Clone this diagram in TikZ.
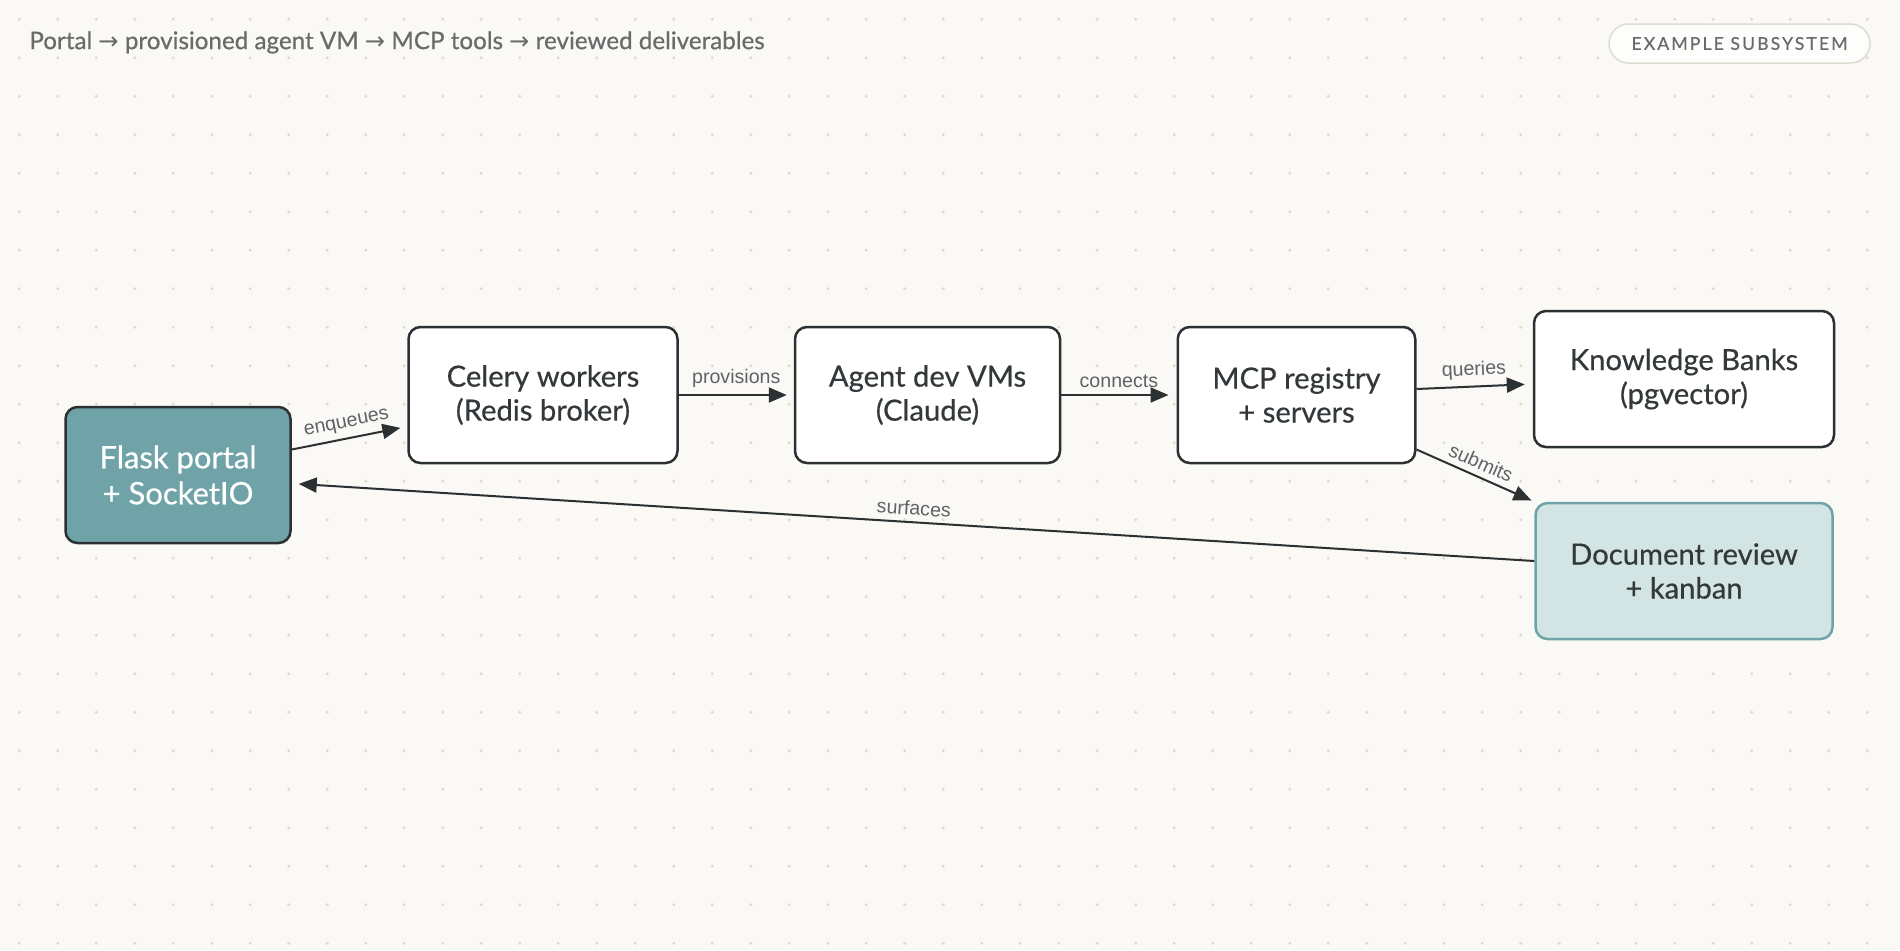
\documentclass[tikz,border=0pt]{standalone}
\usepackage{fontspec}
\setmainfont{Lato}
\newfontfamily\medfont{Lato}[FakeBold=0.5]
\newfontfamily\labelfont{Liberation Sans}
\newfontfamily\arrowfont{DejaVu Sans}
\usetikzlibrary{arrows.meta}

\definecolor{paper}{HTML}{FAF9F5}
\definecolor{dotgray}{HTML}{DDDAD0}
\definecolor{ink}{HTML}{2B3033}
\definecolor{boxtext}{HTML}{33383B}
\definecolor{portalteal}{HTML}{6FA3A8}
\definecolor{docfill}{HTML}{D2E4E3}
\definecolor{titlegray}{HTML}{6A6A6A}
\definecolor{labelgray}{HTML}{5F6368}
\definecolor{pillline}{HTML}{DEDBD0}

\tikzset{
  box/.style={draw=ink, line width=1.25pt, rounded corners=6pt, fill=white,
    minimum height=68pt, align=center, text=boxtext,
    font=\medfont\fontsize{14.6}{17}\selectfont},
  flow/.style={draw=ink, line width=1pt, -{Triangle[length=9pt,width=7.5pt]}},
  tag/.style={midway, above, sloped, inner sep=3pt, text=labelgray,
    font=\labelfont\fontsize{9.8}{11}\selectfont},
}

\begin{document}
\begin{tikzpicture}[x=0.5pt, y=-0.5pt]
% canvas and dot grid
\fill[paper] (0,0) rectangle (1900,950);
\useasboundingbox (0,0) rectangle (1900,950);
\foreach \i in {0,...,48}
  \foreach \j in {0,...,24}
    \fill[dotgray] (19.25+38.5*\i, 19.25+38.5*\j) circle [radius=0.8pt];

\node[anchor=west, inner sep=0pt, text=titlegray, font=\medfont\fontsize{12.1}{14}\selectfont] (title) at (29,42.4)
  {Portal {\arrowfont →} provisioned agent VM {\arrowfont →} MCP tools {\arrowfont →} reviewed deliverables};
\node[draw=pillline, line width=0.75pt, fill=white!60!paper, rounded corners=9.75pt,
  minimum width=130.5pt, minimum height=19.5pt, text=titlegray,
  font=\medfont\addfontfeatures{LetterSpace=12}\fontsize{8.8}{10}\selectfont] (badge) at (1739.5,43.5) {EXAMPLE SUBSYSTEM};

% components
\node[box, fill=portalteal, text=white, minimum width=112.5pt, font=\medfont\fontsize{15.5}{18}\selectfont] (portal) at (178,475) {Flask portal\\+ SocketIO};
\node[box, minimum width=134.5pt] (celery) at (543,395) {Celery workers\\(Redis broker)};
\node[box, minimum width=132.5pt] (agents) at (927.5,395) {Agent dev VMs\\(Claude)};
\node[box, minimum width=118.75pt] (mcp) at (1296.5,395) {MCP registry\\+ servers};
\node[box, minimum width=150pt] (kb) at (1684,379) {Knowledge Banks\\(pgvector)};
\node[box, draw=portalteal, fill=docfill, minimum width=148.5pt] (review) at (1684,571) {Document review\\+ kanban};

% flows
\draw[flow, shorten >=3.5pt] ([yshift=12.75pt]portal.east) -- ([yshift=-15.75pt]celery.west) node[tag] {enqueues};
\draw[flow, shorten >=3.5pt] (celery.east) -- (agents.west) node[tag] {provisions};
\draw[flow, shorten >=4pt] (agents.east) -- (mcp.west) node[tag] {connects};
\draw[flow, shorten >=4pt] ([yshift=3pt]mcp.east) -- ([yshift=-2.5pt]kb.west) node[tag] {queries};
\draw[flow, shorten >=1.5pt] ([yshift=-27.25pt]mcp.east) -- (review.north west) node[tag] {submits};
\draw[flow, shorten >=3.5pt] ([yshift=5pt]review.west) -- ([yshift=-4.25pt]portal.east) node[tag] {surfaces};
\end{tikzpicture}
\end{document}
